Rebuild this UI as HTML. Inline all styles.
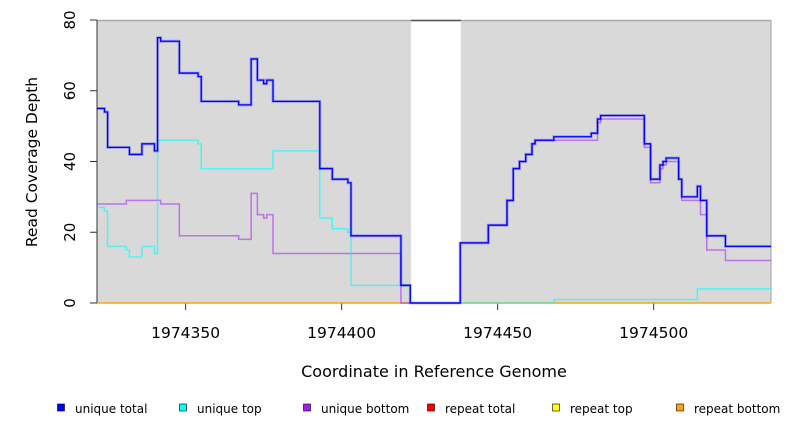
<!DOCTYPE html>
<html><head><meta charset="utf-8"><style>
body{margin:0;background:#fff;}
svg{display:block;font-family:"DejaVu Sans","Liberation Sans",sans-serif;}
</style></head><body>
<svg id="chart" width="792" height="432">
<g id="bg"></g><g id="axes"></g><g id="series"></g><g id="legend"></g>
</svg>
<script>
const xStartsTotal=[1974321.6,1974324,1974325,1974332,1974336,1974340,1974341,1974342,1974348,1974354,1974355,1974367,1974371,1974373,1974375,1974376,1974378,1974393,1974397,1974402,1974403,1974419,1974422,1974438,1974447,1974453,1974455,1974457,1974459,1974461,1974462,1974468,1974480,1974482,1974483,1974497,1974499,1974502,1974503,1974504,1974508,1974509,1974514,1974515,1974517,1974523];
const uniqueTotal=[55,54,44,42,45,43,75,74,65,64,57,56,69,63,62,63,57,38,35,34,19,5,0,17,22,29,38,40,42,45,46,47,48,52,53,45,35,39,40,41,35,30,33,29,19,16];
const xStartsTop=[1974321.6,1974324,1974325,1974331,1974332,1974336,1974340,1974341,1974354,1974355,1974378,1974393,1974397,1974402,1974403,1974422,1974468,1974514];
const uniqueTop=[27,26,16,15,13,16,14,46,45,38,43,24,21,20,5,0,1,4];
const xStartsBottom=[1974321.6,1974331,1974342,1974348,1974367,1974371,1974373,1974375,1974376,1974378,1974419,1974438,1974447,1974453,1974455,1974457,1974459,1974461,1974462,1974482,1974483,1974497,1974499,1974502,1974503,1974504,1974508,1974509,1974515,1974517,1974523];
const uniqueBottom=[28,29,28,19,18,31,25,24,25,14,0,17,22,29,38,40,42,45,46,51,52,44,34,38,39,40,35,29,25,15,12];
const xTicks=[1974350,1974400,1974450,1974500];
const yTicks=[0,20,40,60,80];
const legendLabels=["unique total","unique top","unique bottom","repeat total","repeat top","repeat bottom"];
const legendColors=["#0000ff","#00ffff","#a020f0","#ff0000","#ffff00","#ffa500"];
const xMin=1974321.6,xMax=1974537.6,covered=[[1974321.6,1974422.2],[1974438.2,1974537.6]];
const L=97,R=771,T=20,B=303;
const sx=v=>L+(v-xMin)/(xMax-xMin)*(R-L);
const sy=v=>B-v/80*(B-T);
const NS="http://www.w3.org/2000/svg";
function mk(tag,attrs,parent){const e=document.createElementNS(NS,tag);for(const k in attrs)e.setAttribute(k,attrs[k]);document.getElementById(parent).appendChild(e);return e;}
covered.forEach(c=>{const r=mk('rect',{x:sx(c[0]),y:T,width:sx(c[1])-sx(c[0]),height:B-T,fill:'#d9d9d9'},'bg');

});
let ln=mk('line',{x1:L,y1:T+0.5,x2:R,y2:T+0.5,stroke:'#aaa','stroke-width':1.5},'bg');


ln=mk('line',{x1:sx(covered[0][1]),y1:T+0.5,x2:sx(covered[1][0]),y2:T+0.5,stroke:'#555','stroke-width':1.5},'bg');


ln=mk('line',{x1:R,y1:T,x2:R,y2:B,stroke:'#bbb','stroke-width':1.5},'bg');


ln=mk('line',{x1:L,y1:T,x2:L,y2:B,stroke:'#333','stroke-width':1},'axes');


yTicks.forEach(v=>{const t=mk('line',{x1:L-7,y1:sy(v),x2:L,y2:sy(v),stroke:'#333'},'axes');


const y=sy(v);const tx=mk('text',{x:75,y:y,transform:`rotate(-90 75 ${y})`,'text-anchor':'middle','font-size':15,fill:'#000'},'axes');tx.textContent=v;

});
xTicks.forEach(v=>{const t=mk('line',{x1:sx(v),y1:B,x2:sx(v),y2:B+7,stroke:'#333'},'axes');


const tx=mk('text',{x:sx(v),y:338,'text-anchor':'middle','font-size':15.5,fill:'#000'},'axes');tx.textContent=v;

});
let tt=mk('text',{x:37,y:162,transform:'rotate(-90 37 162)','text-anchor':'middle','font-size':15.5,fill:'#000'},'axes');tt.textContent='Read Coverage Depth';


tt=mk('text',{x:434,y:377,'text-anchor':'middle','font-size':16,fill:'#000'},'axes');tt.textContent='Coordinate in Reference Genome';


function stepPath(xs,ys){let d='';for(let i=0;i<xs.length;i++){const x0=sx(xs[i]),x1=sx(i+1<xs.length?xs[i+1]:xMax),y=sy(ys[i]);d+=(i?'L':'M')+x0+' '+y+'L'+x1+' '+y;}return d;}
ln=mk('line',{x1:L,y1:B,x2:R,y2:B,stroke:'#ffa500','stroke-width':1.5},'series');


let p=mk('path',{d:stepPath(xStartsBottom,uniqueBottom),fill:'none',stroke:'#a020f0','stroke-opacity':0.55,'stroke-width':1.5},'series');


p=mk('path',{d:stepPath(xStartsTop,uniqueTop),fill:'none',stroke:'#00ffff','stroke-opacity':0.6,'stroke-width':1.5},'series');


p=mk('path',{d:stepPath(xStartsTotal,uniqueTotal),fill:'none',stroke:'#0000ff','stroke-opacity':0.25,'stroke-width':3},'series');


p=mk('path',{d:stepPath(xStartsTotal,uniqueTotal),fill:'none',stroke:'#0000ff','stroke-width':1.3},'series');


const lx=[61,183,307,431,556,680];
legendLabels.forEach((lab,i)=>{const r=mk('rect',{x:lx[i]-3.5,y:404,width:7,height:7,fill:legendColors[i],stroke:'#000','stroke-width':0.6},'legend');


const t=mk('text',{x:lx[i]+14,y:413,'font-size':12,fill:'#000'},'legend');t.textContent=lab;

});
</script>
</body></html>
